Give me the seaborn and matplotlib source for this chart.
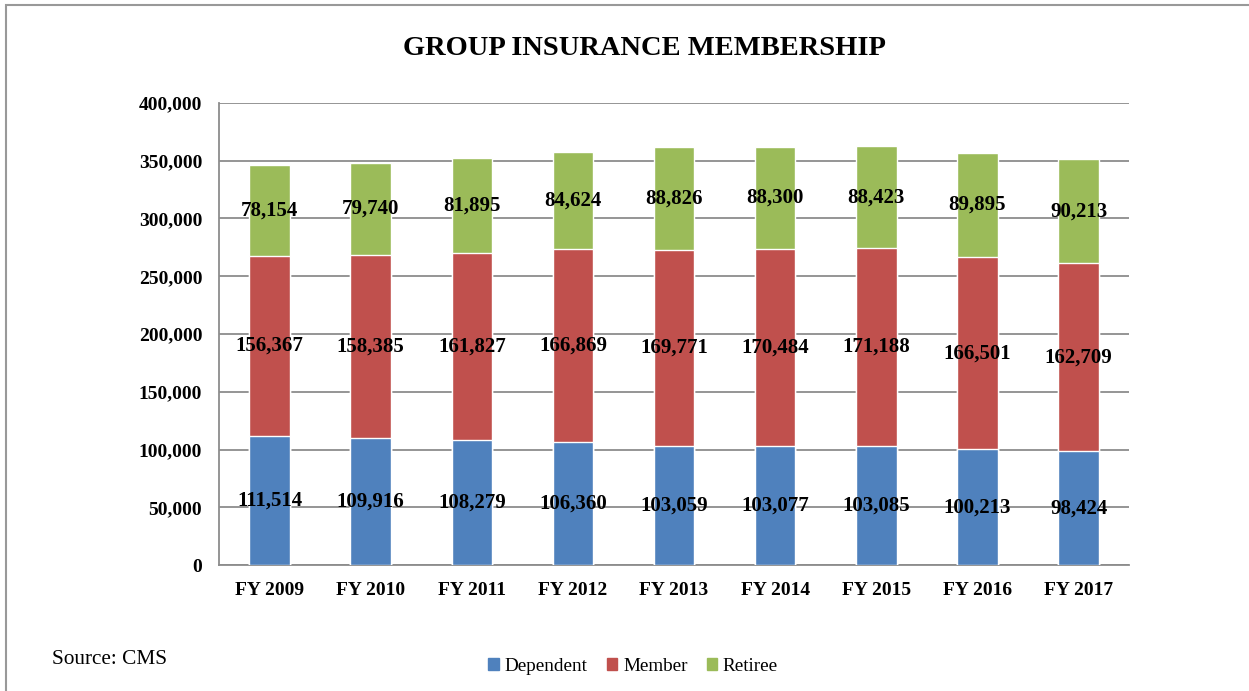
import numpy as np
import pandas as pd
import seaborn as sns
import matplotlib.pyplot as plt
from matplotlib.patches import Rectangle, Patch
from matplotlib.ticker import FuncFormatter, FixedLocator

years = ['FY 2009', 'FY 2010', 'FY 2011', 'FY 2012', 'FY 2013',
         'FY 2014', 'FY 2015', 'FY 2016', 'FY 2017']
dependent = [111514, 109916, 108279, 106360, 103059, 103077, 103085, 100213, 98424]
member = [156367, 158385, 161827, 166869, 169771, 170484, 171188, 166501, 162709]
retiree = [78154, 79740, 81895, 84624, 88826, 88300, 88423, 89895, 90213]

colors = {'Dependent': '#4F81BD', 'Member': '#C0504D', 'Retiree': '#9BBB59'}

df = pd.DataFrame({'year': years, 'Dependent': dependent,
                   'Member': member, 'Retiree': retiree})
df['dep_mem'] = df['Dependent'] + df['Member']
df['total'] = df['dep_mem'] + df['Retiree']

sns.set_style('white')
plt.rcParams['font.family'] = ['Liberation Serif', 'DejaVu Serif']
plt.rcParams['text.color'] = 'black'
plt.rcParams['xtick.color'] = 'black'
plt.rcParams['ytick.color'] = 'black'

fig = plt.figure(figsize=(12.49, 6.91), dpi=100)
ax = fig.add_axes([0.1753, 0.1823, 0.7287, 0.6687])

# stacked bars drawn as layered cumulative totals
sns.barplot(data=df, x='year', y='total', color=colors['Retiree'],
            width=0.4, saturation=1, ax=ax, zorder=3)
sns.barplot(data=df, x='year', y='dep_mem', color=colors['Member'],
            width=0.4, saturation=1, ax=ax, zorder=3)
sns.barplot(data=df, x='year', y='Dependent', color=colors['Dependent'],
            width=0.4, saturation=1, ax=ax, zorder=3)

# segment labels
for i in range(len(years)):
    d, m, r = dependent[i], member[i], retiree[i]
    for val, mid in [(d, d / 2), (m, d + m / 2), (r, d + m + r / 2)]:
        ax.text(i, mid, f'{val:,}', ha='center', va='center',
                fontsize=15, fontweight='bold', color='black', zorder=5)

ax.set_ylim(0, 400000)
ax.set_xlim(-0.5, len(years) - 0.5)
ax.set_yticks(np.arange(0, 400001, 50000))
ax.yaxis.set_major_formatter(FuncFormatter(lambda v, p: f'{int(v):,}'))
ax.set_xlabel('')
ax.set_ylabel('')

ax.yaxis.grid(True, color='#8c8c8c', linewidth=1.3, zorder=0)
ax.set_axisbelow(True)
for s in ['top', 'right']:
    ax.spines[s].set_visible(False)
for s in ['left', 'bottom']:
    ax.spines[s].set_color('#8c8c8c')
    ax.spines[s].set_linewidth(1.3)

ax.tick_params(axis='y', which='major', direction='out', length=6,
               color='#8c8c8c', width=1.3, labelsize=14, pad=6,
               labelcolor='black')
ax.tick_params(axis='x', which='major', length=0, labelsize=14, pad=12,
               labelcolor='black')
ax.xaxis.set_minor_locator(FixedLocator(np.arange(-0.5, len(years), 1.0)))
ax.tick_params(axis='x', which='minor', direction='out', length=6,
               color='#8c8c8c', width=1.3)
for lab in ax.get_xticklabels() + ax.get_yticklabels():
    lab.set_fontweight('bold')

fig.text(0.516, 0.9305, 'GROUP INSURANCE MEMBERSHIP', ha='center', va='center',
         fontsize=20.5, fontweight='bold', color='black')
fig.text(0.042, 0.045, 'Source: CMS', ha='left', va='center', fontsize=15.3,
         color='black')

handles = [Patch(color=colors[k]) for k in ['Dependent', 'Member', 'Retiree']]
fig.legend(handles, ['Dependent', 'Member', 'Retiree'], loc='center',
           bbox_to_anchor=(0.507, 0.036), ncol=3, frameon=False, fontsize=13.8,
           handlelength=0.55, handleheight=0.55, handletextpad=0.3,
           columnspacing=1.0, labelcolor='black')

fig.patches.append(Rectangle((0.0048, -0.2), 1.2, 1.1928, transform=fig.transFigure,
                             fill=False, edgecolor='#999999', linewidth=1.5))

fig.savefig('out.png', dpi=100)
